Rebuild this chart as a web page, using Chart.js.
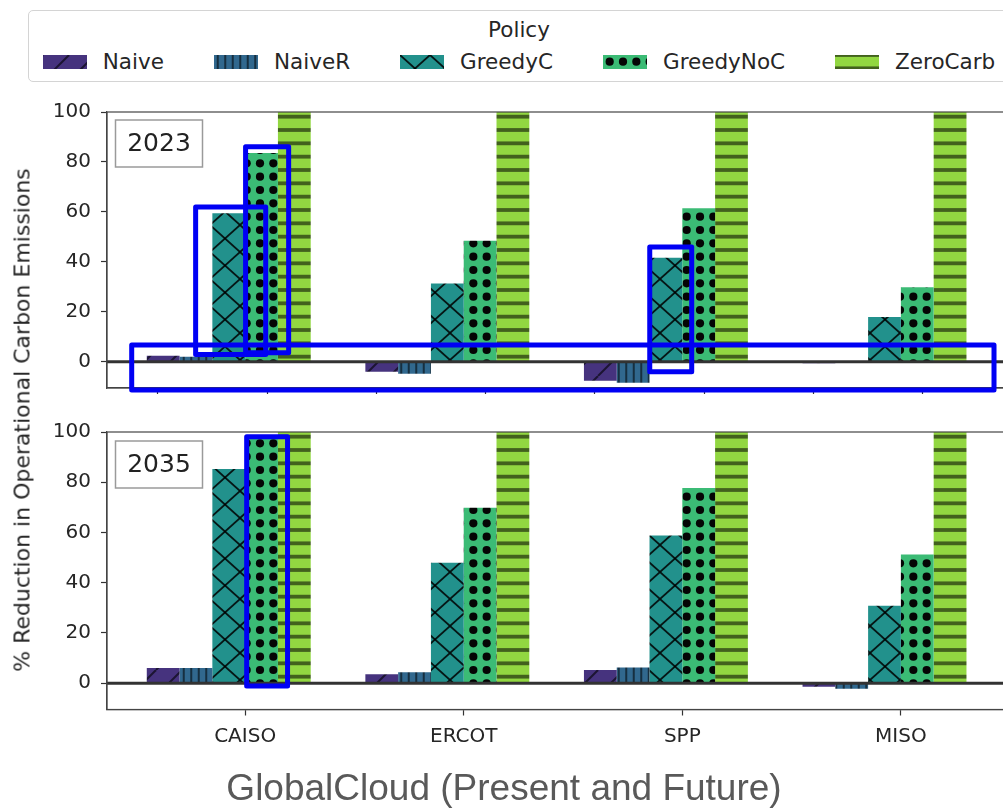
<!DOCTYPE html>
<html>
<head>
<meta charset="utf-8">
<script src="https://cdn.jsdelivr.net/npm/chart.js"></script>
<style>
  html, body { margin: 0; padding: 0; background: #fff; overflow: hidden; width: 1003px; height: 808px; }
  #wrap { position: relative; width: 1003px; height: 808px; overflow: hidden; }
  #wrap > canvas { position: absolute; left: 0; }
  #topChart { top: 90px; }
  #bottomChart { top: 410px; }
  #legend {
    position: absolute; left: 28px; top: 10px; width: 982px; height: 72px;
    box-sizing: border-box; border: 1px solid #d4d4d4; border-radius: 5px;
    font-family: "DejaVu Sans"; font-size: 21.5px; color: #262626;
  }
  #legend .title { position: absolute; top: 7px; left: 0; right: 0; text-align: center; line-height: 24px; }
  #legendItems { position: absolute; top: 39px; left: 0; right: 0; height: 24px; display: flex; justify-content: center; align-items: center; }
  #legendItems .item { display: flex; align-items: center; margin: 0 25px; line-height: 24px; }
  #legendItems canvas { margin-right: 16px; }
  #ylabel {
    position: absolute; left: 22px; top: 420px; white-space: nowrap;
    transform: translate(-50%, -50%) rotate(-90deg);
    font-family: "DejaVu Sans"; font-size: 22px; color: #262626;
  }
</style>
</head>
<body>
<div id="wrap">
  <div id="legend">
    <div class="title">Policy</div>
    <div id="legendItems"></div>
  </div>
  <canvas id="topChart" width="1012" height="320"></canvas>
  <canvas id="bottomChart" width="1010" height="398"></canvas>
  <div id="ylabel">% Reduction in Operational Carbon Emissions</div>
</div>
<script>
const regions = ["CAISO", "ERCOT", "SPP", "MISO"];
const policies = ["Naive", "NaiveR", "GreedyC", "GreedyNoC", "ZeroCarb"];
const yTickValues = [0, 20, 40, 60, 80, 100];

// % reduction, 2023 grid
const naive2023 = [2.4, -4.0, -7.6, -0.6];
const naiveR2023 = [2.0, -4.8, -8.4, -0.1];
const greedyC2023 = [59.5, 31.3, 41.6, 17.9];
const greedyNoC2023 = [83.6, 48.5, 61.5, 29.8];
const zeroCarb2023 = [100, 100, 100, 100];

// % reduction, 2035 grid
const naive2035 = [6.0, 3.5, 5.2, -1.4];
const naiveR2035 = [6.0, 4.3, 6.2, -2.2];
const greedyC2035 = [85.3, 47.9, 58.8, 30.8];
const greedyNoC2035 = [97.3, 69.8, 77.7, 51.2];
const zeroCarb2035 = [100, 100, 100, 100];

const policyColors = ["#46337e", "#31688e", "#22918c", "#3bbb75", "#92d741"];
const policyHatches = ["slash", "vbar", "cross", "dots", "hline"];

// callouts drawn over the panels: [xFrom, xTo, yFrom, yTo] in axis units
const callouts2023 = [
  [-0.2265, 0.094, 2.9, 62.0],
  [0.002, 0.199, 3.6, 86.1],
  [-0.519, 3.426, -11.3, 6.7],
  [1.851, 2.043, -4.0, 46.0],
];
const callouts2035 = [
  [0.007, 0.194, -1.1, 98.1],
];

const xMin = -0.632, xMax = 3.49;

Chart.defaults.font.family = "DejaVu Sans";
Chart.defaults.color = "#262626";

// small repeating tiles that imitate matplotlib hatching
function hatchTile(kind, color) {
  const sizes = { slash: [26, 26], vbar: [15, 4], cross: [30, 27], dots: [40, 40], hline: [4, 40] };
  const [w, h] = sizes[kind];
  const t = document.createElement("canvas");
  t.width = w; t.height = h;
  const g = t.getContext("2d");
  g.fillStyle = color;
  g.fillRect(0, 0, w, h);
  if (kind === "slash") {
    g.strokeStyle = "rgba(0,0,0,0.6)";
    g.lineWidth = 2;
    for (const dx of [-w, 0, w]) {
      g.beginPath(); g.moveTo(dx, h); g.lineTo(dx + w, 0); g.stroke();
    }
  } else if (kind === "vbar") {
    g.fillStyle = "rgba(0,0,0,0.55)";
    g.fillRect(w / 4 - 1, 0, 2, h);
    g.fillRect((3 * w) / 4 - 1, 0, 2, h);
  } else if (kind === "cross") {
    g.strokeStyle = "rgba(0,0,0,0.85)";
    g.lineWidth = 1.8;
    for (const dx of [-w, 0, w]) {
      g.beginPath(); g.moveTo(dx, h); g.lineTo(dx + w, 0); g.stroke();
      g.beginPath(); g.moveTo(dx, 0); g.lineTo(dx + w, h); g.stroke();
    }
  } else if (kind === "dots") {
    g.fillStyle = "#050505";
    const step = w / 3;
    for (let i = 0; i < 3; i++) {
      for (let j = 0; j < 3; j++) {
        g.beginPath(); g.arc(step * (i + 0.5), step * (j + 0.5), 4.1, 0, Math.PI * 2); g.fill();
      }
    }
  } else if (kind === "hline") {
    g.fillStyle = "rgba(0,0,0,0.55)";
    for (let k = 0; k <= 3; k++) g.fillRect(0, (k * h) / 3 - 1.9, w, 3.8);
  }
  return t;
}

function makeDatasets(ctx, series) {
  const sets = series.map((values, i) => ({
    label: policies[i],
    data: values.map((v, j) => ({ x: j, y: v })),
    backgroundColor: ctx.createPattern(hatchTile(policyHatches[i], policyColors[i]), "repeat"),
    borderWidth: 0,
    categoryPercentage: 0.9,
    barPercentage: 1.0,
  }));
  // empty sixth slot keeps the groups left of the tick, as in the hue layout
  sets.push({ label: "", data: [], categoryPercentage: 0.9, barPercentage: 1.0 });
  return sets;
}

const panelDecor = {
  id: "panelDecor",
  afterDatasetsDraw(chart, args, opts) {
    const { ctx, chartArea: a } = chart;
    const y = chart.scales.y;
    ctx.save();
    // zero reference line
    const y0 = y.getPixelForValue(0);
    ctx.strokeStyle = "#333";
    ctx.lineWidth = 3;
    ctx.beginPath(); ctx.moveTo(a.left, y0); ctx.lineTo(a.right, y0); ctx.stroke();
    // axes frame
    ctx.strokeStyle = "#444";
    ctx.lineWidth = 1.2;
    ctx.strokeRect(a.left, a.top, a.right - a.left, a.bottom - a.top);
    // year tag
    const bx = a.left + 8.5, by = a.top + opts.tagOffset, bw = 87, bh = 47;
    ctx.fillStyle = "#fff";
    ctx.fillRect(bx, by, bw, bh);
    ctx.strokeStyle = "#9a9a9a";
    ctx.lineWidth = 1.5;
    ctx.strokeRect(bx, by, bw, bh);
    ctx.fillStyle = "#222";
    ctx.font = "25px 'DejaVu Sans'";
    ctx.textAlign = "center";
    ctx.textBaseline = "middle";
    ctx.fillText(opts.year, bx + bw / 2, by + bh / 2 + 1);
    ctx.restore();
  },
  afterDraw(chart, args, opts) {
    const { ctx } = chart;
    const x = chart.scales.x, y = chart.scales.y;
    ctx.save();
    ctx.strokeStyle = "#0000f4";
    ctx.lineWidth = 5;
    ctx.lineJoin = "round";
    (opts.callouts || []).forEach(([x0, x1, y0, y1]) => {
      const px0 = x.getPixelForValue(x0), px1 = x.getPixelForValue(x1);
      const py0 = y.getPixelForValue(y1), py1 = y.getPixelForValue(y0);
      ctx.strokeRect(px0, py0, px1 - px0, py1 - py0);
    });
    ctx.restore();
  },
};

const regionTicks = (s) => { s.ticks = regions.map((_, i) => ({ value: i })); };

function yAxis() {
  return {
    type: "linear",
    min: -10.5,
    max: 100,
    afterBuildTicks: (s) => { s.ticks = yTickValues.map((v) => ({ value: v })); },
    ticks: { font: { size: 20 }, color: "#262626", padding: 10 },
    grid: { drawOnChartArea: false, drawTicks: true, tickLength: 6, tickColor: "#333", tickWidth: 1.2 },
    border: { display: true, color: "#444", width: 1.2 },
    afterFit: (s) => { s.width = 107; },
  };
}

function baseOptions() {
  return {
    responsive: false,
    animation: false,
    events: [],
    plugins: { legend: { display: false }, tooltip: { enabled: false } },
  };
}

// 2023 panel
const topCtx = document.getElementById("topChart").getContext("2d");
const topOpts = baseOptions();
topOpts.layout = { padding: { top: 18, right: 4, bottom: 0, left: 0 } };
topOpts.plugins.panelDecor = { year: "2023", tagOffset: 8, callouts: callouts2023 };
topOpts.scales = {
  x: {
    type: "linear", min: xMin, max: xMax, offset: false, display: false,
    afterBuildTicks: regionTicks,
    grid: { offset: false },
  },
  // the upper panel carries its own, unlabelled tick marks
  xMarks: {
    type: "linear",
    position: "bottom",
    min: xMin,
    max: xMax,
    offset: false,
    afterBuildTicks: (s) => {
      const t = [];
      for (let v = -0.4; v < xMax; v += 0.5) t.push({ value: v });
      s.ticks = t;
    },
    ticks: { display: false },
    grid: { offset: false, drawOnChartArea: false, drawTicks: true, tickLength: 6, tickColor: "#333", tickWidth: 1.2 },
    border: { display: true, color: "#444", width: 1.2 },
    afterFit: (s) => { s.height = 12.5; },
  },
  y: yAxis(),
};
const topChart = new Chart(topCtx, {
  type: "bar",
  data: {
    datasets: makeDatasets(topCtx, [naive2023, naiveR2023, greedyC2023, greedyNoC2023, zeroCarb2023]),
  },
  options: topOpts,
  plugins: [panelDecor],
});

// 2035 panel
const botCtx = document.getElementById("bottomChart").getContext("2d");
const botOpts = baseOptions();
botOpts.layout = { padding: { top: 9, right: 2, bottom: 0, left: 0 } };
botOpts.plugins.panelDecor = { year: "2035", tagOffset: 9, callouts: callouts2035 };
botOpts.plugins.title = {
  display: true,
  position: "bottom",
  text: "GlobalCloud (Present and Future)",
  color: "#595959",
  font: { family: "Liberation Sans", size: 37, weight: "normal", lineHeight: 1 },
  padding: 0,
};
botOpts.scales = {
  x: {
    type: "linear",
    min: xMin,
    max: xMax,
    offset: false,
    afterBuildTicks: regionTicks,
    ticks: { font: { size: 20 }, color: "#262626", padding: 9.5, callback: (v) => regions[v] },
    grid: { offset: false, drawOnChartArea: false, drawTicks: true, tickLength: 6, tickColor: "#333", tickWidth: 1.2 },
    border: { display: true, color: "#444", width: 1.2 },
    afterFit: (s) => { s.height = 61.5; },
  },
  y: yAxis(),
};
const bottomChart = new Chart(botCtx, {
  type: "bar",
  data: {
    datasets: makeDatasets(botCtx, [naive2035, naiveR2035, greedyC2035, greedyNoC2035, zeroCarb2035]),
  },
  options: botOpts,
  plugins: [panelDecor],
});

// legend row, one swatch per policy with the same hatch as the bars
const legendItems = document.getElementById("legendItems");
policies.forEach((name, i) => {
  const item = document.createElement("div");
  item.className = "item";
  const sw = document.createElement("canvas");
  sw.width = 44; sw.height = 14;
  const g = sw.getContext("2d");
  g.fillStyle = g.createPattern(hatchTile(policyHatches[i], policyColors[i]), "repeat");
  g.fillRect(0, 0, 44, 14);
  const label = document.createElement("span");
  label.textContent = name;
  item.appendChild(sw);
  item.appendChild(label);
  legendItems.appendChild(item);
});
</script>
</body>
</html>
